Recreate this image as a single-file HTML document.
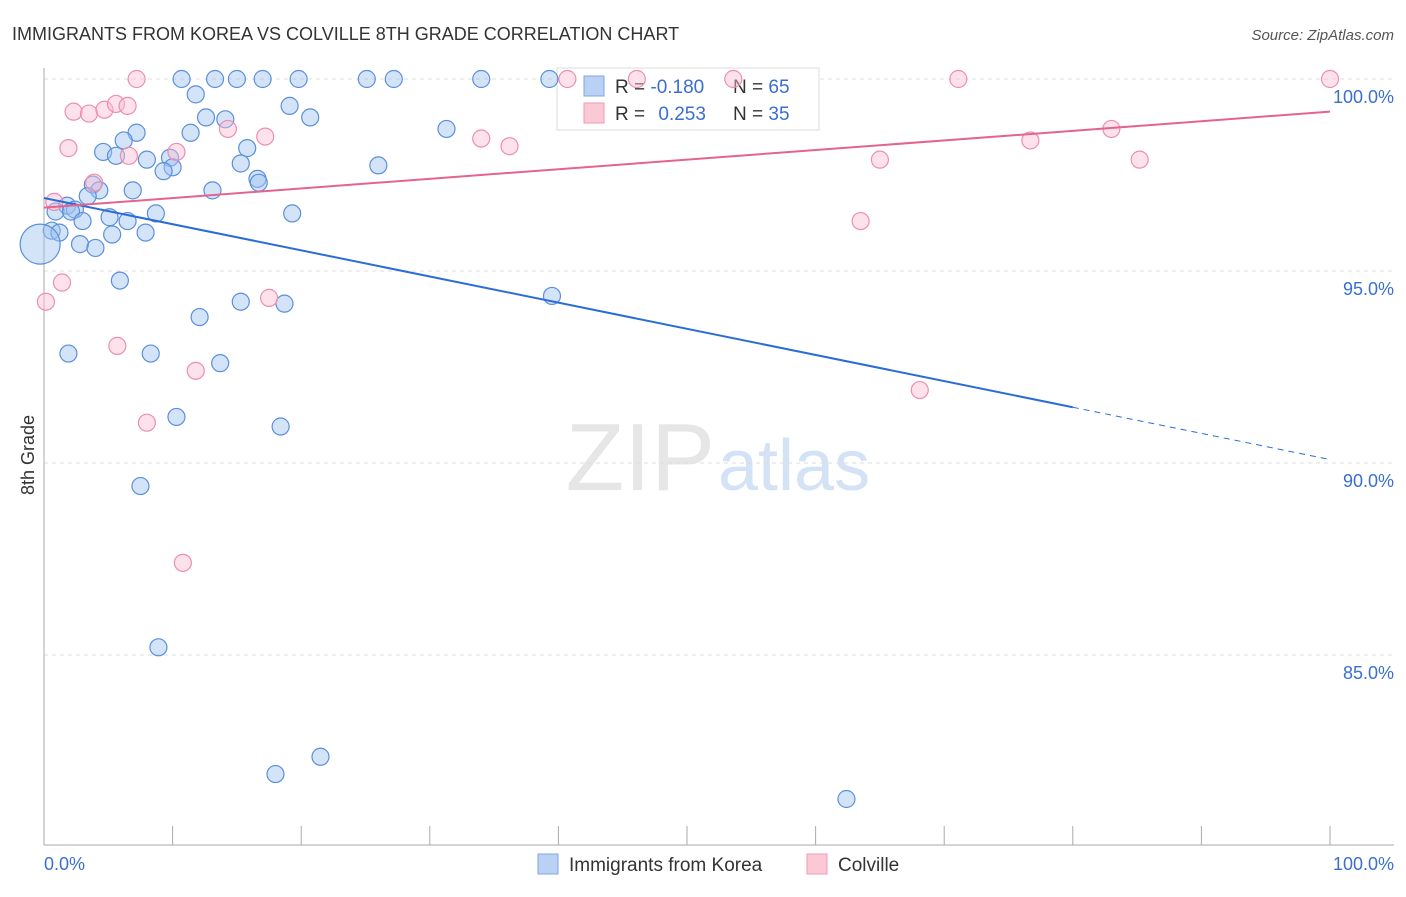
<!DOCTYPE html>
<html><head><meta charset="utf-8">
<style>
body{margin:0;background:#fff;font-family:"Liberation Sans",sans-serif;}
svg text{font-family:"Liberation Sans",sans-serif;}
</style></head>
<body>
<svg id="chart" width="1406" height="892">
<text x="12" y="40" font-size="18" fill="#333">IMMIGRANTS FROM KOREA VS COLVILLE 8TH GRADE CORRELATION CHART</text>
<text x="1394" y="40" font-size="15" fill="#555" text-anchor="end" font-style="italic">Source: ZipAtlas.com</text>
<text x="715" y="490" font-size="96" fill="#e6e6e6" text-anchor="end" font-family="Liberation Serif">ZIP</text>
<text x="718" y="490" font-size="72" fill="#d4e2f5">atlas</text>
<g id="grid"></g>
<g id="axes"></g>
<g>
<rect x="557" y="68" width="262" height="62" fill="#fff" fill-opacity="0.9" stroke="#ddd"/>
<rect x="584" y="76" width="20" height="20" fill="#b9d1f3" stroke="#7ea6e6"/>
<rect x="584" y="103" width="20" height="20" fill="#fbc8d6" stroke="#f09ab4"/>
<text x="615" y="93" font-size="19" fill="#333">R = <tspan fill="#3a6fd0">-0.180</tspan></text>
<text x="733" y="93" font-size="19" fill="#333">N = <tspan fill="#3a6fd0">65</tspan></text>
<text x="615" y="120" font-size="19" fill="#333">R = <tspan fill="#3a6fd0" dx="8">0.253</tspan></text>
<text x="733" y="120" font-size="19" fill="#333">N = <tspan fill="#3a6fd0">35</tspan></text>
</g>
<g id="pts"></g>
<g id="lines"></g>
<text x="34" y="455" font-size="18" fill="#333" text-anchor="middle" transform="rotate(-90 34 455)">8th Grade</text>
<text x="44" y="870" font-size="18" fill="#3a6fd0">0.0%</text>
<text x="1394" y="870" font-size="18" fill="#3a6fd0" text-anchor="end">100.0%</text>
<g>
<rect x="538" y="854" width="20" height="20" fill="#b9d1f3" stroke="#7ea6e6"/>
<text x="569" y="871" font-size="19" fill="#333">Immigrants from Korea</text>
</g>
<g>
<rect x="807" y="854" width="20" height="20" fill="#fbc8d6" stroke="#f09ab4"/>
<text x="838" y="871" font-size="19" fill="#333">Colville</text>
</g>
</svg>
<script>
const yTicks=[100,95,90,85];
const blueX=[10.7,13.3,15.0,17.0,19.8,25.1,27.2,34.0,39.3,11.8,19.1,20.7,12.6,14.1,11.4,7.2,31.3,6.2,15.8,4.6,5.6,8.0,9.8,10.0,9.3,15.3,26.0,16.6,16.7,3.8,4.3,6.9,13.1,3.4,1.8,2.4,0.9,2.1,19.3,8.7,5.1,3.0,6.5,0.6,1.2,5.3,7.9,2.8,4.0,5.9,15.3,18.7,39.5,12.1,1.9,8.3,13.7,10.3,18.4,7.5,8.9,21.5,18.0,62.4,-0.3];
const blueY=[100,100,100,100,100,100,100,100,100,99.6,99.3,99.0,99.0,98.95,98.6,98.6,98.7,98.4,98.2,98.1,98.0,97.9,97.95,97.7,97.6,97.8,97.75,97.4,97.3,97.25,97.1,97.1,97.1,96.95,96.7,96.6,96.55,96.55,96.5,96.5,96.4,96.3,96.3,96.05,96.0,95.95,96.0,95.7,95.6,94.75,94.2,94.15,94.35,93.8,92.85,92.85,92.6,91.2,90.95,89.4,85.2,82.35,81.9,81.25,95.7];
const pinkX=[7.2,40.7,46.1,53.6,71.1,100,2.3,3.5,4.7,5.6,6.5,1.9,6.6,10.3,14.3,17.2,34.0,36.2,3.9,0.8,65.0,76.7,83.0,85.2,63.5,1.4,17.5,5.7,11.8,8.0,68.1,10.8,0.15];
const pinkY=[100,100,100,100,100,100,99.15,99.1,99.2,99.35,99.3,98.2,98.0,98.1,98.7,98.5,98.45,98.25,97.3,96.8,97.9,98.4,98.7,97.9,96.3,94.7,94.3,93.05,92.4,91.05,91.9,87.4,94.2];
const blueTrend=[96.9,-0.0681];
const pinkTrend=[96.65,0.025];
const X=v=>44+v*12.86, Y=v=>79+(100-v)*38.4;
const NS='http://www.w3.org/2000/svg';
function mk(tag,attrs,parent){const e=document.createElementNS(NS,tag);for(const k in attrs)e.setAttribute(k,attrs[k]);document.getElementById(parent).appendChild(e);return e;}
yTicks.forEach(t=>{
 const l=mk('line',{x1:44,x2:1394,y1:Y(t),y2:Y(t),stroke:'#ddd','stroke-dasharray':'4,4'},'grid');
 
 
 const tx=mk('text',{x:1394,y:Y(t)+24,'font-size':18,fill:'#3a6fd0','text-anchor':'end'},'grid');
 tx.textContent=t.toFixed(1)+'%';
 
 
});
const ax=mk('line',{x1:44,x2:44,y1:68,y2:845,stroke:'#aaa'},'axes');


const bx=mk('line',{x1:44,x2:1394,y1:845,y2:845,stroke:'#aaa'},'axes');


for(let i=0;i<=10;i++){
 const tk=mk('line',{x1:X(i*10),x2:X(i*10),y1:826,y2:845,stroke:'#aaa'},'axes');
 
 
}
blueX.forEach((v,i)=>{
 const c=mk('circle',{cx:X(v),cy:Y(blueY[i]),r:i==blueX.length-1?20:8.5,fill:'rgba(160,196,240,0.45)',stroke:'#5b8fdc','stroke-width':1.2},'pts');
 
 
});
pinkX.forEach((v,i)=>{
 const c=mk('circle',{cx:X(v),cy:Y(pinkY[i]),r:8.5,fill:'rgba(250,190,210,0.45)',stroke:'#ec8fae','stroke-width':1.2},'pts');
 
 
});
const bt=v=>blueTrend[0]+blueTrend[1]*v, pt=v=>pinkTrend[0]+pinkTrend[1]*v;
const l1=mk('line',{x1:X(0),y1:Y(bt(0)),x2:X(80),y2:Y(bt(80)),stroke:'#2a6dd6','stroke-width':2},'lines');


const l2=mk('line',{x1:X(80),y1:Y(bt(80)),x2:X(100),y2:Y(bt(100)),stroke:'#2a6dd6','stroke-width':1,'stroke-dasharray':'6,5'},'lines');


const l3=mk('line',{x1:X(0),y1:Y(pt(0)),x2:X(100),y2:Y(pt(100)),stroke:'#e2648f','stroke-width':2},'lines');


</script>
</body></html>
